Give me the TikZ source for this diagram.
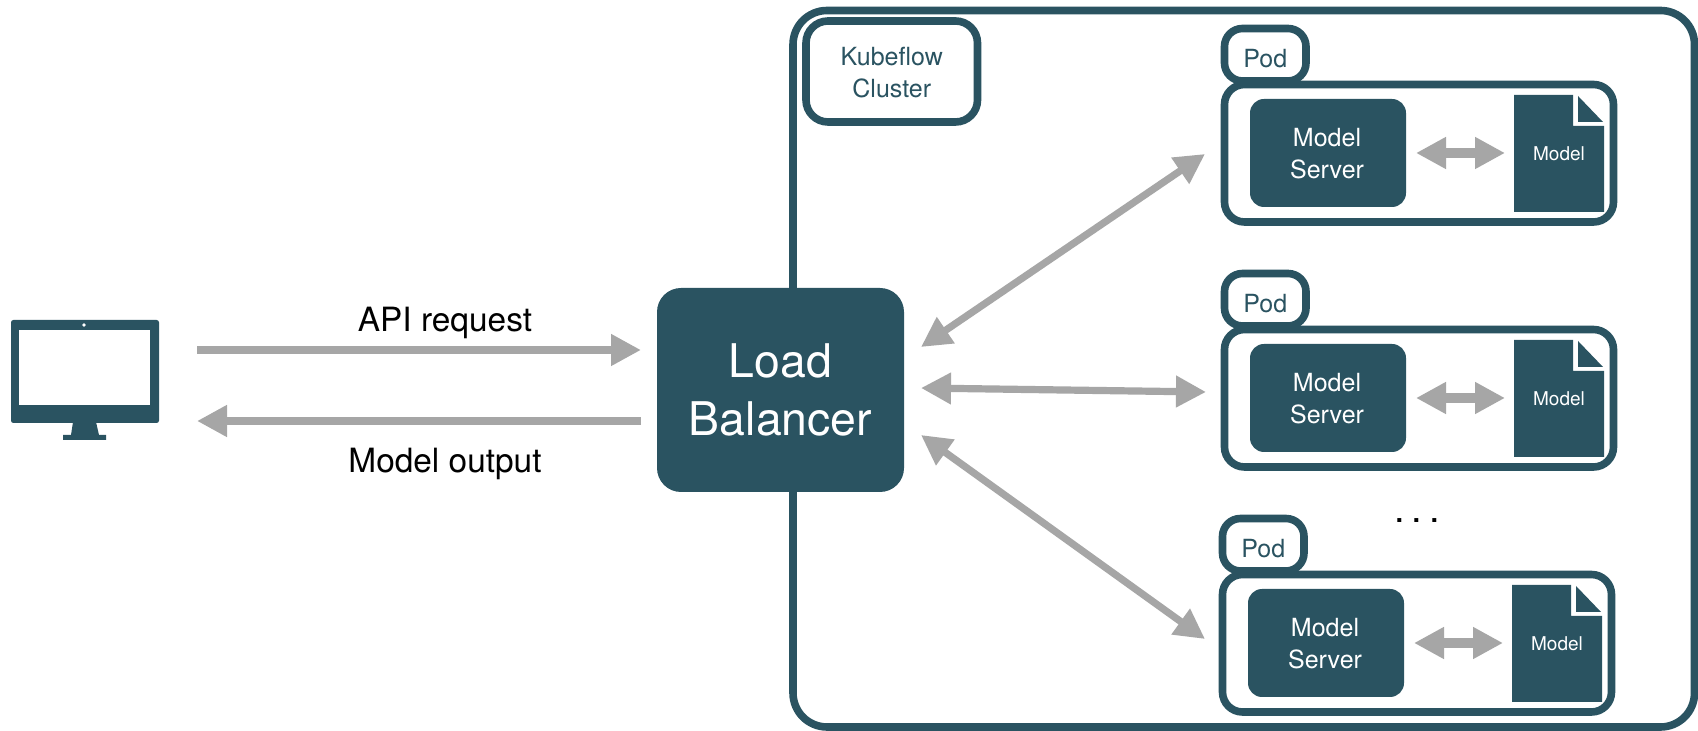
\documentclass[tikz,border=0pt]{standalone}
\usepackage{fontspec}
\setmainfont{TeX Gyre Heros}
\usetikzlibrary{arrows.meta,calc}
\definecolor{teal}{HTML}{2A5361}
\definecolor{arrowgray}{HTML}{A6A6A6}
\tikzset{
  frame/.style={draw=teal,line width=3.8pt,fill=white,rectangle,inner sep=0pt},
  solidbox/.style={fill=teal,rectangle,inner sep=0pt,text=white,align=center},
  flow/.style={draw=arrowgray,line width=4pt,-{Triangle[length=15pt,width=15pt]}},
  flowboth/.style={draw=arrowgray,line width=3.6pt,{Triangle[length=15pt,width=15pt]}-{Triangle[length=15pt,width=15pt]}},
  localboth/.style={draw=arrowgray,line width=5pt,{Triangle[length=15pt,width=15pt]}-{Triangle[length=15pt,width=15pt]}},
  lbl/.style={inner sep=0pt,font=\fontsize{16.7pt}{20pt}\selectfont,text=black},
  smalltxt/.style={font=\fontsize{12.5pt}{16pt}\selectfont,align=center},
}
\begin{document}
\begin{tikzpicture}[x=0.5pt,y=-0.5pt]
\useasboundingbox (0,0) rectangle (1698,731);
% cluster
\node[frame,rounded corners=17pt,minimum width=450.75pt,minimum height=358.25pt] (cluster) at (1243.75,368.75) {};
\node[frame,rounded corners=11pt,minimum width=85.75pt,minimum height=50.5pt] (kube) at (891.75,71.5) {};
\node[inner sep=0pt,smalltxt,text=teal] (kubetxt) at (891.75,72.5) {Kubeflow\\Cluster};
% load balancer
\node[solidbox,rounded corners=12pt,minimum width=123.5pt,minimum height=102pt] (lb) at (780.5,390) {};
\node[inner sep=0pt,text=white,align=center,font=\fontsize{23.2pt}{29pt}\selectfont] (lbtxt) at (780.5,390) {Load\\Balancer};
% pods
\foreach \i/\dx/\dy in {1/0/0,2/0/245,3/-2/490}{
\begin{scope}[shift={(\dx,\dy)}]
  \node[frame,rounded corners=10pt,minimum width=194.5pt,minimum height=68.75pt] (podbox\i) at (1419,153.25) {};
  \node[frame,rounded corners=9pt,minimum width=40.75pt,minimum height=26.25pt] (pod\i) at (1265.25,54.75) {};
  \node[inner sep=0pt,smalltxt,text=teal] (podtxt\i) at (1265.25,58.5) {Pod};
  \node[solidbox,rounded corners=7pt,minimum width=78pt,minimum height=54pt] (server\i) at (1328,153) {};
  \node[inner sep=0pt,smalltxt,text=white] (servertxt\i) at (1327,153.5) {Model\\Server};
  \fill[teal] (1514,95) -- (1573,95) -- (1573,126) -- (1604,126) -- (1604,212) -- (1514,212) -- cycle;
  \fill[teal] (1578,96) -- (1603,122) -- (1578,122) -- cycle;
  \node[inner sep=0pt,text=white,font=\fontsize{9.5pt}{11pt}\selectfont] (model\i) at (1559,154) {Model};
  \coordinate (sl\i) at (1416,153);
  \coordinate (sr\i) at (1505,153);
  \draw[localboth] (sl\i) -- (sr\i);
\end{scope}
}
% monitor
\fill[teal,rounded corners=1.2pt] (11,320) rectangle (159,423);
\fill[white] (19,330) rectangle (150,405);
\fill[white] (84,325) circle (1.8);
\fill[teal] (73,422) -- (96,422) -- (99,435) -- (106,435) -- (106,440) -- (63,440) -- (63,435) -- (71,435) -- cycle;
% external arrows
\coordinate (reqa) at (197,350);
\coordinate (reqb) at (641,350);
\coordinate (outa) at (641,421);
\coordinate (outb) at (197,421);
\draw[flow] (reqa) -- (reqb);
\draw[flow] (outa) -- (outb);
\node[lbl] (api) at (445,323) {API request};
\node[lbl] (out) at (445,464) {Model output};
% balancer arrows
\coordinate (a1) at (921,347);
\coordinate (b1) at (1205,154);
\coordinate (a2) at (921,388);
\coordinate (b2) at (1206,392);
\coordinate (a3) at (921,435);
\coordinate (b3) at (1205,639);
\draw[flowboth] (a1) -- (b1);
\draw[flowboth] (a2) -- (b2);
\draw[flowboth] (a3) -- (b3);
\node[inner sep=0pt,text=black,font=\fontsize{19pt}{20pt}\selectfont] (dots) at (1417,521) {.\kern3.5pt.\kern3.5pt.};
\end{tikzpicture}
\end{document}
